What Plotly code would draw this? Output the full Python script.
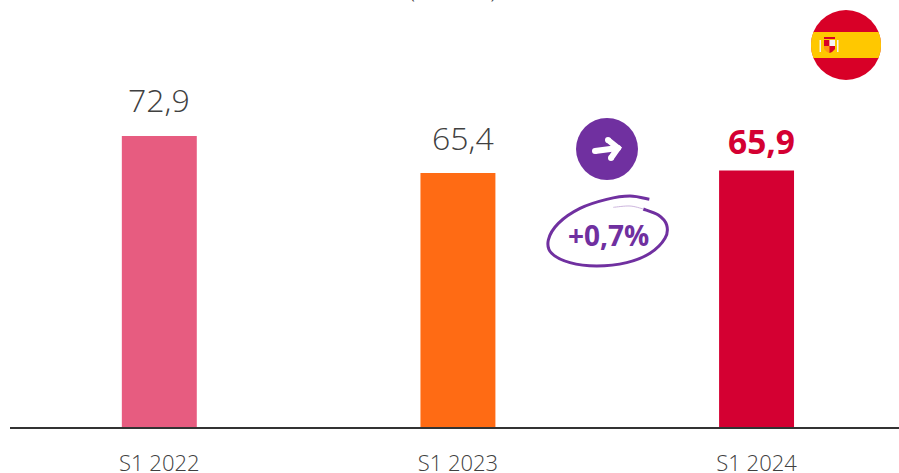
import numpy as np
import plotly.graph_objects as go

categories = ["S1 2022", "S1 2023", "S1 2024"]
values = [72.9, 65.4, 65.9]
labels = ["72,9", "65,4", "65,9"]
bar_colors = ["#E75C80", "#FF6B14", "#D40032"]
label_colors = ["#404040", "#404040", "#D40032"]
label_weights = [300, 300, 700]
label_sizes = [32, 32, 33.5]
label_gaps = [13, 12, 5]
label_nudges = [0, 5, 5]
change_label = "+0,7%"
unit_label = "(en Md€)"

W, H = 899, 473
L, R, T, B = 10, 0, 0, 46
PURPLE = "#7030A0"


def px(x):
    return (x - L) / (W - L - R)


def py(y):
    return 1 - (y - T) / (H - T - B)


def pth(pts, close=False):
    s = "M" + " L".join(f"{px(x):.5f},{py(y):.5f}" for x, y in pts)
    return s + (" Z" if close else "")


def smooth(pts):
    p = [pts[0]] + list(pts) + [pts[-1]]
    s = f"M{px(pts[0][0]):.5f},{py(pts[0][1]):.5f}"
    for i in range(1, len(p) - 2):
        a, b, c, d = map(np.array, (p[i - 1], p[i], p[i + 1], p[i + 2]))
        c1 = b + (c - a) / 6
        c2 = c - (d - b) / 6
        s += (f" C{px(c1[0]):.5f},{py(c1[1]):.5f} {px(c2[0]):.5f},{py(c2[1]):.5f}"
              f" {px(c[0]):.5f},{py(c[1]):.5f}")
    return s


def circle(cx, cy, r, color):
    return dict(type="circle", xref="paper", yref="paper", x0=px(cx - r), x1=px(cx + r),
                y0=py(cy + r), y1=py(cy - r), fillcolor=color, line_width=0, layer="above")


def poly(pts, color):
    return dict(type="path", xref="paper", yref="paper", path=pth(pts, True),
                fillcolor=color, line_width=0, layer="above")


def stroke(path, color, width):
    return dict(type="path", xref="paper", yref="paper", path=path,
                line=dict(color=color, width=width), layer="above")


shapes = []
# Spanish flag badge
fx, fy, fr = 846, 45, 35
shapes.append(circle(fx, fy, fr, "#D80027"))
band = 13
a = np.arcsin(band / fr)
t = np.linspace(-a, a, 16)
band_pts = [(fx + fr * np.cos(v), fy + fr * np.sin(v)) for v in t] + \
           [(fx - fr * np.cos(v), fy - fr * np.sin(v)) for v in t]
shapes.append(poly(band_pts, "#FFC800"))
shapes.append(poly([(819.5, 40), (821, 40), (821, 52), (819.5, 52)], "#F4F4F4"))
shapes.append(poly([(837, 40), (838.5, 40), (838.5, 52), (837, 52)], "#F4F4F4"))
shapes.append(poly([(824, 37), (835, 37), (835, 39), (824, 39)], "#D80027"))
shapes.append(poly([(824, 40), (835, 40), (835, 49), (832, 52), (829.5, 53), (827, 52), (824, 49)], "#FF9811"))
shapes.append(poly([(824, 40), (829.5, 40), (829.5, 46), (824, 46)], "#D80027"))
shapes.append(poly([(829.5, 40), (835, 40), (835, 46), (829.5, 46)], "#F4F4F4"))
shapes.append(poly([(829.5, 46), (835, 46), (835, 49), (832, 52), (829.5, 53)], "#D80027"))

# Arrow badge
shapes.append(circle(607, 149, 31, PURPLE))
shapes.append(stroke(pth([(595, 151), (618, 148)]), "white", 6))
shapes.append(stroke(pth([(608, 140), (618, 148), (611, 158)]), "white", 6))
for cx, cy in [(595, 151), (608, 140), (611, 158), (618, 148)]:
    shapes.append(circle(cx, cy, 3, "white"))

# Hand-drawn ring
ring = [(358, 268), (300, 258), (230, 268), (150, 295), (85, 340), (55, 390), (65, 430),
        (120, 458), (200, 468), (290, 458), (360, 430), (405, 385), (410, 345),
        (385, 315), (340, 297)]
ring_px = [(530 + x / 3, 110 + y / 3) for x, y in ring]
shapes.append(stroke(smooth(ring_px), PURPLE, 3))
tail = [(340, 297), (300, 288), (250, 292)]
shapes.append(stroke(smooth([(530 + x / 3, 110 + y / 3) for x, y in tail]), "#CDB6DE", 1))

annotations = [
    dict(text=lab, x=c, y=v, xref="x", yref="y", yanchor="bottom", xanchor="center",
         yshift=gap, xshift=nudge, showarrow=False,
         font=dict(size=sz, color=col, family="Open Sans", weight=w))
    for c, v, lab, col, w, sz, gap, nudge in zip(categories, values, labels, label_colors,
                                                 label_weights, label_sizes, label_gaps, label_nudges)
]
annotations += [
    dict(text=f"<b>{change_label}</b>", xref="paper", yref="paper", x=px(608), y=py(235),
         showarrow=False, font=dict(size=28, color=PURPLE, family="Open Sans"),
         xanchor="center", yanchor="middle"),
    dict(text=unit_label, xref="paper", yref="paper", x=px(452), y=py(-11),
         showarrow=False, yanchor="middle", xanchor="center",
         font=dict(size=22, color="#404040", family="Open Sans", weight=300)),
]

fig = go.Figure()
fig.add_trace(go.Bar(
    x=categories, y=values, width=0.251, marker=dict(color=bar_colors, line_width=0),
    hoverinfo="skip",
))
fig.update_layout(
    width=W, height=H, autosize=False, margin=dict(l=L, r=R, t=T, b=B, autoexpand=False),
    paper_bgcolor="white", plot_bgcolor="white", showlegend=False, shapes=shapes,
    font=dict(family="Open Sans", color="#404040"), annotations=annotations,
)
fig.update_xaxes(type="category", range=[-0.5, 2.477], showgrid=False, showline=True,
                 automargin=False,
                 linecolor="#333333", linewidth=2, ticks="", ticklabelstandoff=16,
                 tickfont=dict(size=22, color="#404040", family="Open Sans", weight=300))
fig.update_yaxes(range=[13.9, 100.5], visible=False, showgrid=False, zeroline=False)
fig.write_html("out.html", config={"displayModeBar": False},
               post_script="document.body.style.margin='0';document.documentElement.style.overflow='hidden';")
